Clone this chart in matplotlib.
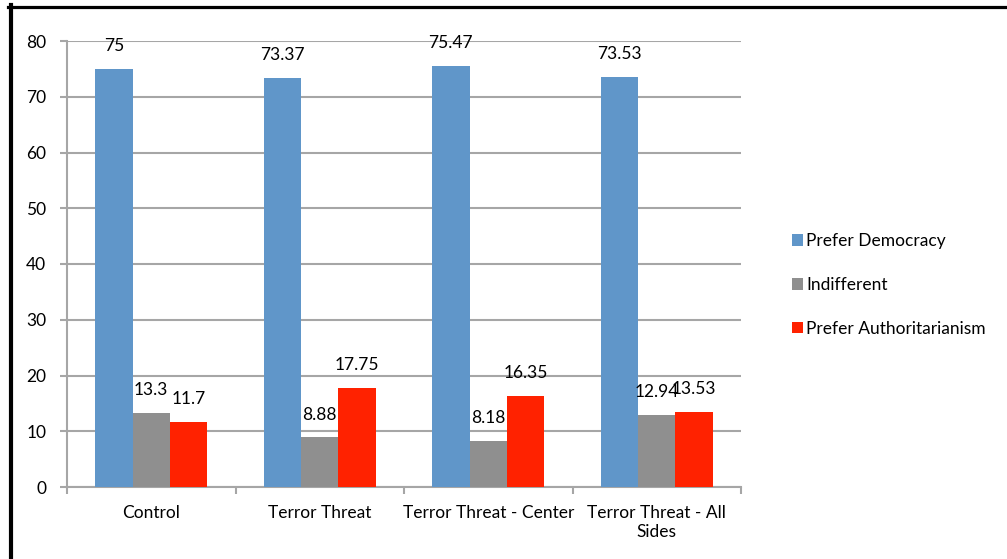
import matplotlib.pyplot as plt
import numpy as np
from matplotlib.lines import Line2D
from matplotlib.patches import Patch

plt.rcParams['font.family'] = ['Lato', 'DejaVu Sans']

groups = ['Control', 'Terror Threat', 'Terror Threat - Center', 'Terror Threat - All\nSides']
series = ['Prefer Democracy', 'Indifferent', 'Prefer Authoritarianism']
democracy = [75, 73.37, 75.47, 73.53]
indifferent = [13.3, 8.88, 8.18, 12.94]
authoritarian = [11.7, 17.75, 16.35, 13.53]
yticks = [0, 10, 20, 30, 40, 50, 60, 70, 80]

colors = ['#6096c9', '#8f8f8f', '#ff2200']
grid_col = '#a6a6a6'

W, H = 1007, 559
fig = plt.figure(figsize=(W / 100, H / 100), dpi=100)
fig.patch.set_facecolor('white')
ax = fig.add_axes([67 / W, 1 - 487 / H, (741 - 67) / W, (487 - 41) / H])

x = np.arange(len(groups))
bw = 1 / 4.5  # gap width 150%
for i, (vals, c) in enumerate(zip([democracy, indifferent, authoritarian], colors)):
    pos = x + (i - 1) * bw
    ax.bar(pos, vals, width=bw, color=c, zorder=3)
    for px_, v in zip(pos, vals):
        ax.annotate(('%g' % v), (px_, v), xytext=(0, 16.5), textcoords='offset points',
                    ha='center', va='center', fontsize=12.5, color='black', zorder=5,
                    annotation_clip=False)

ax.set_xlim(-0.5, len(groups) - 0.5)
ax.set_ylim(0, 80)
ax.set_yticks(yticks)
ax.yaxis.grid(True, color=grid_col, linewidth=1.5, zorder=0)
ax.set_axisbelow(True)

ax.set_xticks(x)
ax.set_xticklabels(groups, fontsize=12.5, linespacing=1.25)
ax.tick_params(axis='x', length=0, pad=13)
ax.set_xticks(np.arange(len(groups) + 1) - 0.5, minor=True)
ax.tick_params(axis='x', which='minor', length=5, width=1.5, color=grid_col)
ax.tick_params(axis='y', length=5, width=1.5, color=grid_col, labelsize=12.5, pad=10)

for s in ['top', 'right']:
    ax.spines[s].set_visible(False)
for s in ['left', 'bottom']:
    ax.spines[s].set_color(grid_col)
    ax.spines[s].set_linewidth(1.5)

handles = [Patch(facecolor=c, edgecolor='none') for c in colors]
fig.legend(handles, series, loc='center left', bbox_to_anchor=(776 / W, 1 - 285 / H),
           frameon=False, fontsize=12.5, handlelength=0.65, handleheight=0.65,
           handletextpad=0.2, labelspacing=1.6)

# black frame on the top and left edges
fig.add_artist(Line2D([8 / W, 1], [1 - 6.5 / H, 1 - 6.5 / H], color='black', linewidth=2.3,
                      transform=fig.transFigure))
fig.add_artist(Line2D([10.5 / W, 10.5 / W], [0, 1 - 5 / H], color='black', linewidth=3,
                      transform=fig.transFigure))

fig.savefig('out.png', dpi=100)
